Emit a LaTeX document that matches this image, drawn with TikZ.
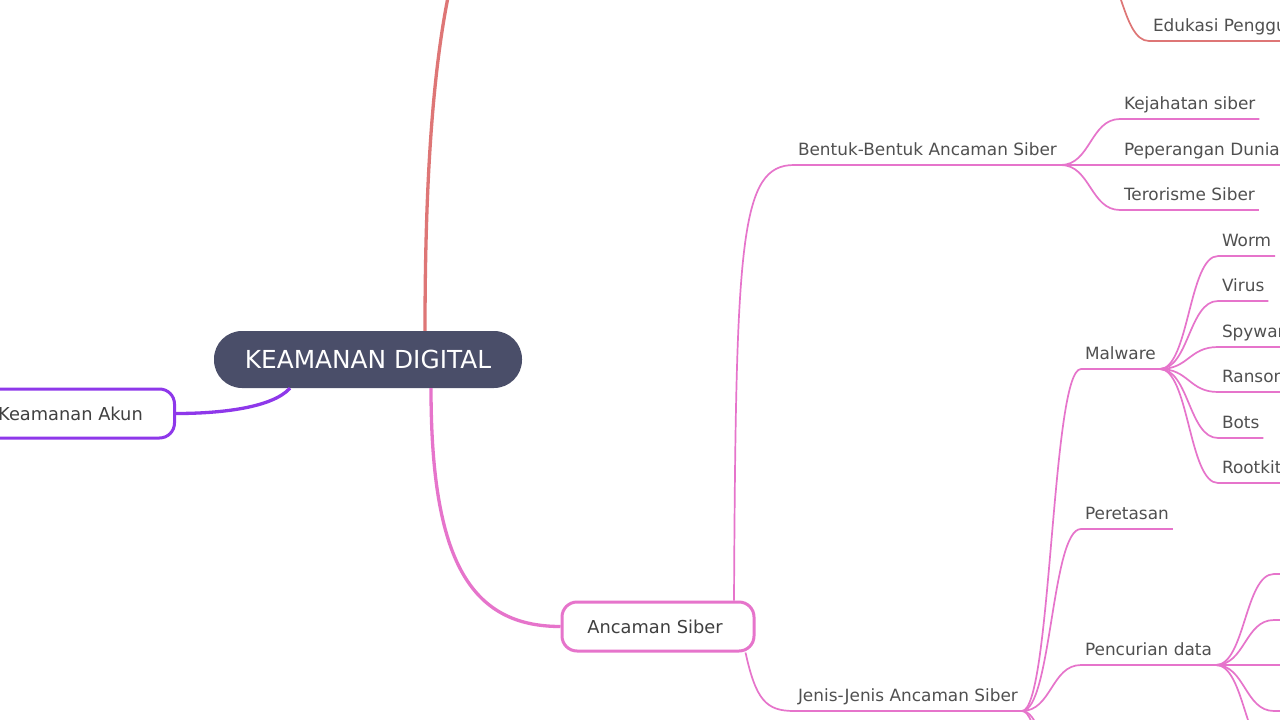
\documentclass[tikz,border=0pt]{standalone}
\usepackage{fontspec}
\setmainfont{DejaVu Sans}
\usetikzlibrary{calc}
\definecolor{rootfill}{HTML}{4A4E69}
\definecolor{pinkc}{HTML}{E674CB}
\definecolor{purplec}{HTML}{8E38EA}
\definecolor{redc}{HTML}{DE7676}
\definecolor{labelc}{HTML}{505050}
\definecolor{nodetext}{HTML}{404040}
\tikzset{
  rootbox/.style={fill=rootfill, text=white, rounded corners=28pt, minimum width=308pt, minimum height=57pt, inner sep=0pt, font=\fontsize{24.8}{28}\selectfont},
  branchbox/.style={fill=white, line width=3pt, rounded corners=15pt, minimum height=49pt, inner sep=0pt, text=nodetext, font=\fontsize{17.8}{21}\selectfont},
  lbl/.style={anchor=south west, inner xsep=4pt, inner ysep=0pt, outer sep=0pt, text depth=10pt, text=labelc, font=\fontsize{16.9}{20}\selectfont},
  mainline/.style={line width=3.3pt},
  subline/.style={line width=1.7pt},
  mm/.style={to path={let \p1=(\tikztostart), \p2=(\tikztotarget) in .. controls ({(1-#1)*\x1+#1*\x2},\y1) and ({(1-#1)*\x1+#1*\x2},\y2) .. (\tikztotarget)}},
  mm/.default=0.5
}
\begin{document}
\begin{tikzpicture}[x=1pt,y=-1pt]
\useasboundingbox (0,0) rectangle (1280,720);
\clip (0,0) rectangle (1280,720);
\fill[white] (0,0) rectangle (1280,720);

% nodes
\node[rootbox] (root) at (368,359.5) {KEAMANAN DIGITAL};
\node[branchbox, draw=purplec, minimum width=205pt] (akun) at (72,413.5) {Keamanan Akun\kern3pt};
\node[branchbox, draw=pinkc, minimum width=192pt] (ancaman) at (658,626.5) {Ancaman Siber\kern6pt};

\node[lbl] (bentuk) at (794,165) {Bentuk-Bentuk Ancaman Siber};
\node[lbl] (jenis) at (794,711) {Jenis-Jenis Ancaman Siber};
\node[lbl] (kej) at (1120,119) {Kejahatan siber};
\node[lbl] (perang) at (1120,165) {Peperangan Dunia Maya};
\node[lbl] (teror) at (1120,210) {Terorisme Siber};
\node[lbl] (malware) at (1081,369) {Malware};
\node[lbl] (peretasan) at (1081,529) {Peretasan};
\node[lbl] (pencurian) at (1081,665) {Pencurian data};
\node[lbl] (worm) at (1218,256) {Worm};
\node[lbl] (virus) at (1218,301) {Virus};
\node[lbl] (spyware) at (1218,347) {Spyware};
\node[lbl] (ransom) at (1218,392) {Ransomware};
\node[lbl] (bots) at (1218,438) {Bots};
\node[lbl] (rootkit) at (1218,483) {Rootkit};
\node[lbl] (edukasi) at (1149,41) {Edukasi Pengguna};

% off-canvas ends
\coordinate (secroot) at (575,-169);
\coordinate (eduhub) at (1093,-41);
\coordinate (jx1) at (1081,846);
\coordinate (jx2) at (1081,980);
\coordinate (pc1) at (1274,574);
\coordinate (pc2) at (1274,620);
\coordinate (pc3) at (1274,665);
\coordinate (pc4) at (1274,711);
\coordinate (pc5) at (1274,756);

% main connectors
\draw[mainline, redc] ([xshift=57pt]root.north) .. controls (425,-29) and (470,-169) .. (secroot);
\draw[mainline, purplec] ([xshift=-78pt]root.south) .. controls (272,408) and (220,413.5) .. (akun.east);
\draw[mainline, pinkc] ([xshift=63pt]root.south) .. controls (431,560) and (470,626.5) .. (ancaman.west);

% ancaman siber
\draw[subline, pinkc] ([xshift=76pt]ancaman.north) .. controls (736,240) and (740,165) .. (bentuk.south west) -- (bentuk.south east);
\draw[subline, pinkc] ([xshift=-10pt]ancaman.south east) .. controls (756,700) and (766,711) .. (jenis.south west) -- (jenis.south east);

\foreach \c in {kej,perang,teror}
  \draw[subline, pinkc] (bentuk.south east) to[mm] (\c.south west) -- (\c.south east);
\foreach \c in {malware,peretasan,pencurian}
  \draw[subline, pinkc] (jenis.south east) to[mm] (\c.south west) -- (\c.south east);
\foreach \c in {jx1,jx2}
  \draw[subline, pinkc] (jenis.south east) to[mm] (\c) -- ++(60,0);
\foreach \c in {worm,virus,spyware,ransom,bots,rootkit}
  \draw[subline, pinkc] (malware.south east) to[mm] (\c.south west) -- (\c.south east);
\foreach \c in {pc1,pc2,pc3,pc4,pc5}
  \draw[subline, pinkc] (pencurian.south east) to[mm] (\c) -- ++(40,0);

\draw[subline, redc] (eduhub) to[mm] (edukasi.south west) -- (edukasi.south east);
\end{tikzpicture}
\end{document}
